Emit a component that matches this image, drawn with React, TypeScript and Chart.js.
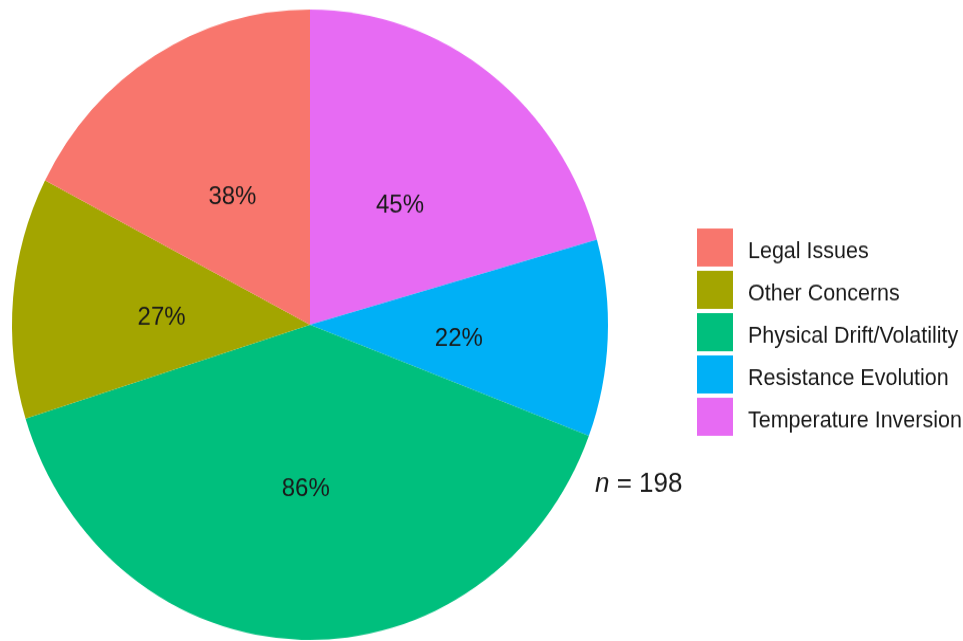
import React, { useEffect, useRef } from "react";
import { Chart, registerables } from "chart.js";

Chart.register(...registerables);

// Legend order (as shown in the legend)
const categories = [
  "Legal Issues",
  "Other Concerns",
  "Physical Drift/Volatility",
  "Resistance Evolution",
  "Temperature Inversion",
];
const percentages = [38, 27, 86, 22, 45];
const colors = ["#F8766D", "#A3A500", "#00BF7D", "#00B0F6", "#E76BF3"];
const sampleSize = 198;

const FONT = "'Liberation Sans', Arial, sans-serif";

// Canvas is drawn at a smaller height and stretched, like the reference image
const CANVAS_W = 963;
const CANVAS_H = 606;
const DISPLAY_H = 641;

export default function App() {
  const ref = useRef<HTMLCanvasElement | null>(null);

  useEffect(() => {
    if (!ref.current) return;
    // Pie is drawn clockwise from 12 o'clock in reverse legend order
    const pieLabels = categories.slice().reverse();
    const pieValues = percentages.slice().reverse();
    const pieColors = colors.slice().reverse();

    const sliceLabels = {
      id: "sliceLabels",
      afterDatasetsDraw(chart: any) {
        const ctx = chart.ctx;
        const meta = chart.getDatasetMeta(0);
        const values = chart.data.datasets[0].data;
        ctx.save();
        ctx.font = `24px ${FONT}`;
        ctx.fillStyle = "#1a1a1a";
        ctx.textAlign = "center";
        ctx.textBaseline = "middle";
        meta.data.forEach((arc: any, i: number) => {
          const p = arc.getProps(["x", "y", "startAngle", "endAngle", "outerRadius"], true);
          const mid = (p.startAngle + p.endAngle) / 2;
          const r = p.outerRadius * 0.5;
          ctx.fillText(`${values[i]}%`, p.x + Math.cos(mid) * r, p.y + Math.sin(mid) * r + 6.5);
        });
        ctx.restore();
      },
    };

    const customLegend = {
      id: "customLegend",
      afterDraw(chart: any) {
        const ctx = chart.ctx;
        ctx.save();
        const boxX = 697;
        const boxSize = 36;
        const top0 = 216;
        const pitch = 40;
        ctx.font = `21.5px ${FONT}`;
        ctx.textAlign = "left";
        ctx.textBaseline = "middle";
        categories.forEach((c, i) => {
          const y = top0 + i * pitch;
          ctx.fillStyle = colors[i];
          ctx.fillRect(boxX, y, boxSize, boxSize);
          ctx.fillStyle = "#1a1a1a";
          ctx.fillText(c, 748, y + boxSize / 2 + 4);
        });
        // n = 198
        const ny = 458;
        ctx.font = `italic 26px ${FONT}`;
        ctx.fillText("n", 595, ny);
        const w = ctx.measureText("n").width;
        ctx.font = `26px ${FONT}`;
        ctx.fillText(` = ${sampleSize}`, 595 + w, ny);
        ctx.restore();
      },
    };

    const chart = new Chart(ref.current, {
      type: "pie",
      data: {
        labels: pieLabels,
        datasets: [
          {
            data: pieValues,
            backgroundColor: pieColors,
            borderWidth: 0,
            hoverOffset: 0,
            offset: 0,
          },
        ],
      },
      options: {
        animation: false,
        responsive: false,
        events: [],
        layout: { padding: { left: 12, right: 355, top: 9, bottom: 1 } },
        plugins: {
          legend: { display: false },
          tooltip: { enabled: false },
          title: { display: false },
        },
      },
      plugins: [sliceLabels, customLegend],
    });
    return () => chart.destroy();
  }, []);

  return (
    <div style={{ position: "absolute", left: 0, top: 0, width: CANVAS_W, height: DISPLAY_H, background: "#fff" }}>
      <canvas
        ref={ref}
        width={CANVAS_W}
        height={CANVAS_H}
        style={{ display: "block", width: `${CANVAS_W}px`, height: `${DISPLAY_H}px` }}
      />
    </div>
  );
}
